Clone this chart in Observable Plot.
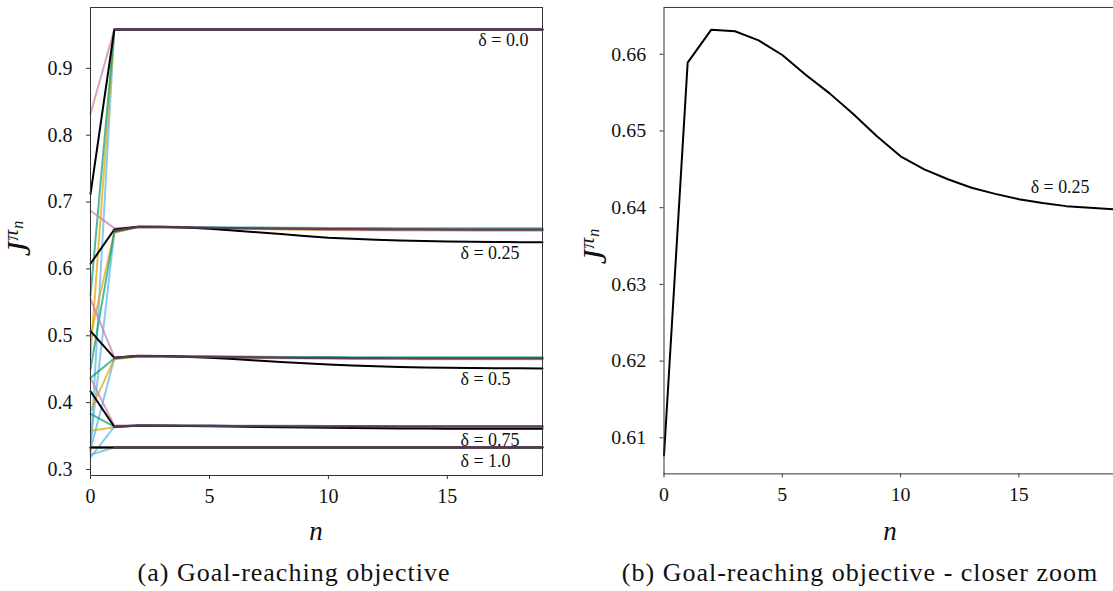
<!DOCTYPE html>
<html>
<head>
<meta charset="utf-8">
<script src="https://cdn.jsdelivr.net/npm/d3@7"></script>
<script src="https://cdn.jsdelivr.net/npm/@observablehq/plot@0.6"></script>
<style>
  html, body { margin: 0; padding: 0; background: #fff; overflow: hidden; }
  body { width: 1113px; height: 591px; position: relative; color: #111; font-family: 'Liberation Serif', serif; }
  .abs { position: absolute; white-space: nowrap; transform: translate(-50%, -50%); }
  .cap { font-size: 26px; letter-spacing: 1px; }
  .xl { font-size: 27px; font-style: italic; }
  .yl { font-size: 33px; font-style: italic; transform: translate(-50%, -50%) rotate(-90deg); line-height: 1; letter-spacing: 1px; }
  .yl sup { font-size: 22px; }
  .yl sub { font-size: 16px; }
  #left { position: absolute; left: 0; top: 0; }
  #right { position: absolute; left: 574px; top: 0; }
  svg text { font-family: 'Liberation Serif', serif; }
</style>
</head>
<body>
<div id="left"></div>
<div id="right"></div>
<div class="abs yl" style="left:18px; top:238px;">J<sup>π<sub>n</sub></sup></div>
<div class="abs yl" style="left:594px; top:246px;">J<sup>π<sub>n</sub></sup></div>
<div class="abs xl" style="left:316px; top:531px;">n</div>
<div class="abs xl" style="left:890px; top:531px;">n</div>
<div class="abs cap" style="left:294px; top:573px;">(a) Goal-reaching objective</div>
<div class="abs cap" style="left:860px; top:573px;">(b) Goal-reaching objective - closer zoom</div>
<script>
const steps = [0,1,2,3,4,5,6,7,8,9,10,11,12,13,14,15,16,17,18,19];

const blue_d00   = [0.325,0.958,0.958,0.958,0.958,0.958,0.958,0.958,0.958,0.958,0.958,0.958,0.958,0.958,0.958,0.958,0.958,0.958,0.958,0.958];
const orange_d00 = [0.470,0.958,0.958,0.958,0.958,0.958,0.958,0.958,0.958,0.958,0.958,0.958,0.958,0.958,0.958,0.958,0.958,0.958,0.958,0.958];
const green_d00  = [0.560,0.958,0.958,0.958,0.958,0.958,0.958,0.958,0.958,0.958,0.958,0.958,0.958,0.958,0.958,0.958,0.958,0.958,0.958,0.958];
const pink_d00   = [0.832,0.958,0.958,0.958,0.958,0.958,0.958,0.958,0.958,0.958,0.958,0.958,0.958,0.958,0.958,0.958,0.958,0.958,0.958,0.958];
const black_d00  = [0.712,0.958,0.958,0.958,0.958,0.958,0.958,0.958,0.958,0.958,0.958,0.958,0.958,0.958,0.958,0.958,0.958,0.958,0.958,0.958];
const mean_d00   = [0.958,0.958,0.958,0.958,0.958,0.958,0.958,0.958,0.958,0.958,0.958,0.958,0.958,0.958,0.958,0.958,0.958,0.958,0.958];

const blue_d025   = [0.340,0.655,0.6628,0.6626,0.6622,0.6617,0.6612,0.6608,0.6604,0.6601,0.6599,0.6597,0.6595,0.6594,0.6593,0.6592,0.6592,0.6591,0.6591,0.6591];
const orange_d025 = [0.500,0.654,0.6625,0.6622,0.6616,0.6609,0.6602,0.6596,0.6590,0.6586,0.6582,0.6579,0.6577,0.6575,0.6574,0.6573,0.6572,0.6572,0.6571,0.6571];
const green_d025  = [0.450,0.655,0.6630,0.6630,0.6627,0.6624,0.6621,0.6618,0.6616,0.6614,0.6613,0.6612,0.6611,0.6610,0.6610,0.6609,0.6609,0.6609,0.6609,0.6609];
const pink_d025   = [0.687,0.661,0.6628,0.6625,0.6620,0.6614,0.6608,0.6603,0.6598,0.6594,0.6591,0.6589,0.6587,0.6586,0.6585,0.6584,0.6584,0.6583,0.6583,0.6583];
const black_d025  = [0.6077,0.6589,0.6632,0.6630,0.6618,0.6599,0.6573,0.6549,0.6522,0.6493,0.6467,0.6450,0.6437,0.6426,0.6418,0.6411,0.6406,0.6402,0.6400,0.6398];
const mean_d025   = [0.657,0.6628,0.6626,0.6621,0.6616,0.6611,0.6606,0.6602,0.6599,0.6596,0.6594,0.6592,0.6591,0.6590,0.6589,0.6589,0.6588,0.6588,0.6588];

const blue_d05   = [0.330,0.466,0.4695,0.4693,0.4690,0.4686,0.4682,0.4678,0.4675,0.4672,0.4670,0.4668,0.4667,0.4666,0.4665,0.4665,0.4664,0.4664,0.4664,0.4664];
const orange_d05 = [0.388,0.465,0.4690,0.4688,0.4683,0.4678,0.4672,0.4667,0.4663,0.4659,0.4656,0.4654,0.4652,0.4651,0.4650,0.4649,0.4649,0.4648,0.4648,0.4648];
const green_d05  = [0.437,0.466,0.4698,0.4697,0.4695,0.4692,0.4689,0.4686,0.4684,0.4682,0.4681,0.4680,0.4679,0.4678,0.4678,0.4678,0.4677,0.4677,0.4677,0.4677];
const pink_d05   = [0.555,0.468,0.4695,0.4692,0.4688,0.4683,0.4678,0.4674,0.4670,0.4667,0.4664,0.4662,0.4661,0.4660,0.4659,0.4659,0.4658,0.4658,0.4658,0.4658];
const black_d05  = [0.507,0.467,0.4700,0.4698,0.4688,0.4672,0.4652,0.4630,0.4608,0.4588,0.4570,0.4555,0.4543,0.4534,0.4527,0.4522,0.4518,0.4515,0.4513,0.4511];
const mean_d05   = [0.467,0.4695,0.4693,0.4689,0.4685,0.4680,0.4676,0.4673,0.4670,0.4668,0.4666,0.4665,0.4664,0.4663,0.4663,0.4662,0.4662,0.4662,0.4662];

const blue_d075   = [0.318,0.364,0.3658,0.3657,0.3655,0.3653,0.3651,0.3649,0.3648,0.3647,0.3646,0.3645,0.3645,0.3644,0.3644,0.3644,0.3644,0.3644,0.3644,0.3644];
const orange_d075 = [0.358,0.363,0.3656,0.3655,0.3653,0.3651,0.3649,0.3647,0.3645,0.3644,0.3643,0.3642,0.3642,0.3641,0.3641,0.3641,0.3641,0.3641,0.3641,0.3641];
const green_d075  = [0.383,0.364,0.3660,0.3659,0.3658,0.3657,0.3656,0.3655,0.3654,0.3653,0.3652,0.3652,0.3651,0.3651,0.3651,0.3651,0.3651,0.3651,0.3651,0.3651];
const pink_d075   = [0.437,0.366,0.3658,0.3657,0.3655,0.3653,0.3651,0.3649,0.3647,0.3646,0.3645,0.3644,0.3644,0.3643,0.3643,0.3643,0.3643,0.3643,0.3643,0.3643];
const black_d075  = [0.417,0.364,0.3655,0.3654,0.3651,0.3647,0.3642,0.3637,0.3632,0.3627,0.3623,0.3619,0.3616,0.3614,0.3612,0.3611,0.3610,0.3609,0.3608,0.3608];
const mean_d075   = [0.364,0.3657,0.3656,0.3654,0.3652,0.3650,0.3648,0.3647,0.3646,0.3645,0.3644,0.3644,0.3643,0.3643,0.3643,0.3643,0.3643,0.3643,0.3643];

const blue_d10   = [0.322,0.333,0.333,0.333,0.333,0.333,0.333,0.333,0.333,0.333,0.333,0.333,0.333,0.333,0.333,0.333,0.333,0.333,0.333,0.333];
const orange_d10 = [0.333,0.333,0.333,0.333,0.333,0.333,0.333,0.333,0.333,0.333,0.333,0.333,0.333,0.333,0.333,0.333,0.333,0.333,0.333,0.333];
const green_d10  = [0.333,0.333,0.333,0.333,0.333,0.333,0.333,0.333,0.333,0.333,0.333,0.333,0.333,0.333,0.333,0.333,0.333,0.333,0.333,0.333];
const pink_d10   = [0.333,0.333,0.333,0.333,0.333,0.333,0.333,0.333,0.333,0.333,0.333,0.333,0.333,0.333,0.333,0.333,0.333,0.333,0.333,0.333];
const black_d10  = [0.333,0.333,0.333,0.333,0.333,0.333,0.333,0.333,0.333,0.333,0.333,0.333,0.333,0.333,0.333,0.333,0.333,0.333,0.333,0.333];
const mean_d10   = [0.333,0.333,0.333,0.333,0.333,0.333,0.333,0.333,0.333,0.333,0.333,0.333,0.333,0.333,0.333,0.333,0.333,0.333,0.333];

// curve labels: text, value of the annotated curve, n where the label starts
const deltaLabels = ["δ = 0.0", "δ = 0.25", "δ = 0.5", "δ = 0.75", "δ = 1.0"];
const deltaLabelY = [0.958, 0.6402, 0.4517, 0.3609, 0.333];
const deltaLabelN = [16.3, 15.55, 15.55, 15.55, 15.55];
const leftYTicks = [0.3, 0.4, 0.5, 0.6, 0.7, 0.8, 0.9];
const rightYTicks = [0.61, 0.62, 0.63, 0.64, 0.65, 0.66];
const xTicks = [0, 5, 10, 15];
const zoomLabel = "δ = 0.25";
const zoomLabelY = 0.6407;
const zoomLabelN = 15.5;

const palette = {blue: "#56B4E9", orange: "#E69F00", green: "#009E73", pink: "#CC79A7"};

const colored = [
  ["0.0", "blue", blue_d00], ["0.0", "orange", orange_d00], ["0.0", "green", green_d00], ["0.0", "pink", pink_d00],
  ["0.25", "blue", blue_d025], ["0.25", "orange", orange_d025], ["0.25", "green", green_d025], ["0.25", "pink", pink_d025],
  ["0.5", "blue", blue_d05], ["0.5", "orange", orange_d05], ["0.5", "green", green_d05], ["0.5", "pink", pink_d05],
  ["0.75", "blue", blue_d075], ["0.75", "orange", orange_d075], ["0.75", "green", green_d075], ["0.75", "pink", pink_d075],
  ["1.0", "blue", blue_d10], ["1.0", "orange", orange_d10], ["1.0", "green", green_d10], ["1.0", "pink", pink_d10]
];
const blacks = [["0.0", black_d00], ["0.25", black_d025], ["0.5", black_d05], ["0.75", black_d075], ["1.0", black_d10]];
const means = [["0.0", mean_d00], ["0.25", mean_d025], ["0.5", mean_d05], ["0.75", mean_d075], ["1.0", mean_d10]];

const coloredRows = colored.flatMap(([d, c, arr]) => arr.map((v, i) => ({n: steps[i], v, key: d + c, color: palette[c]})));
const blackRows = blacks.flatMap(([d, arr]) => arr.map((v, i) => ({n: steps[i], v, key: d})));
const meanRows = means.flatMap(([d, arr]) => arr.map((v, i) => ({n: steps[i + 1], v, key: d})));
const labelRows = deltaLabels.map((t, i) => ({t, y: deltaLabelY[i], n: deltaLabelN[i]}));
const zoomRows = black_d025.map((v, i) => ({n: steps[i], v}));

const FF = "Liberation Serif";
const baseStyle = "font-family: 'Liberation Serif', serif; font-size: 20px; color: #111; background: #fff; overflow: visible;";
const fmt1 = d => d.toFixed(1);
const fmt2 = d => d.toFixed(2);

const left = Plot.plot({
  width: 556, height: 520,
  marginLeft: 90, marginRight: 14, marginTop: 7, marginBottom: 45,
  style: baseStyle,
  x: {domain: [0, 19]},
  y: {domain: [0.291, 0.991]},
  marks: [
    Plot.axisX(xTicks, {tickSize: 4, tickPadding: 9, label: null, fontSize: 20, fontFamily: FF, stroke: "#333"}),
    Plot.axisY(leftYTicks, {tickSize: 4, tickPadding: 14, tickFormat: fmt1, label: null, fontSize: 20, fontFamily: FF, stroke: "#333"}),
    Plot.line(coloredRows, {x: "n", y: "v", z: "key", stroke: "color", strokeOpacity: 0.7, strokeWidth: 2}),
    Plot.line(blackRows, {x: "n", y: "v", z: "key", stroke: "#000", strokeWidth: 2}),
    Plot.line(meanRows, {x: "n", y: "v", z: "key", stroke: "#5a3a5c", strokeWidth: 2.2, strokeOpacity: 0.95}),
    Plot.text(labelRows.slice(0, 4), {x: "n", y: "y", text: "t", dy: 11, textAnchor: "start", fontSize: 18, fontFamily: FF, fill: "#111"}),
    Plot.text(labelRows.slice(4), {x: "n", y: "y", text: "t", dy: 14, textAnchor: "start", fontSize: 18, fontFamily: FF, fill: "#111"}),
    Plot.frame({stroke: "#333", strokeWidth: 1})
  ]
});
document.getElementById("left").appendChild(left);

const right = Plot.plot({
  width: 542, height: 521,
  marginLeft: 90, marginRight: 0, marginTop: 7, marginBottom: 45,
  style: baseStyle,
  x: {domain: [0, 19]},
  y: {domain: [0.6053, 0.6661]},
  marks: [
    Plot.axisX(xTicks, {tickSize: 4, tickPadding: 9, label: null, fontSize: 20, fontFamily: FF, stroke: "#333"}),
    Plot.axisY(rightYTicks, {tickSize: 4, tickPadding: 14, tickFormat: fmt2, label: null, fontSize: 20, fontFamily: FF, stroke: "#333"}),
    Plot.line(zoomRows, {x: "n", y: "v", stroke: "#000", strokeWidth: 2}),
    Plot.text([{t: zoomLabel, y: zoomLabelY, n: zoomLabelN}], {x: "n", y: "y", text: "t", dy: -15, textAnchor: "start", fontSize: 18, fontFamily: FF, fill: "#111"}),
    Plot.frame({stroke: "#333", strokeWidth: 1})
  ]
});
document.getElementById("right").appendChild(right);
</script>
</body>
</html>
